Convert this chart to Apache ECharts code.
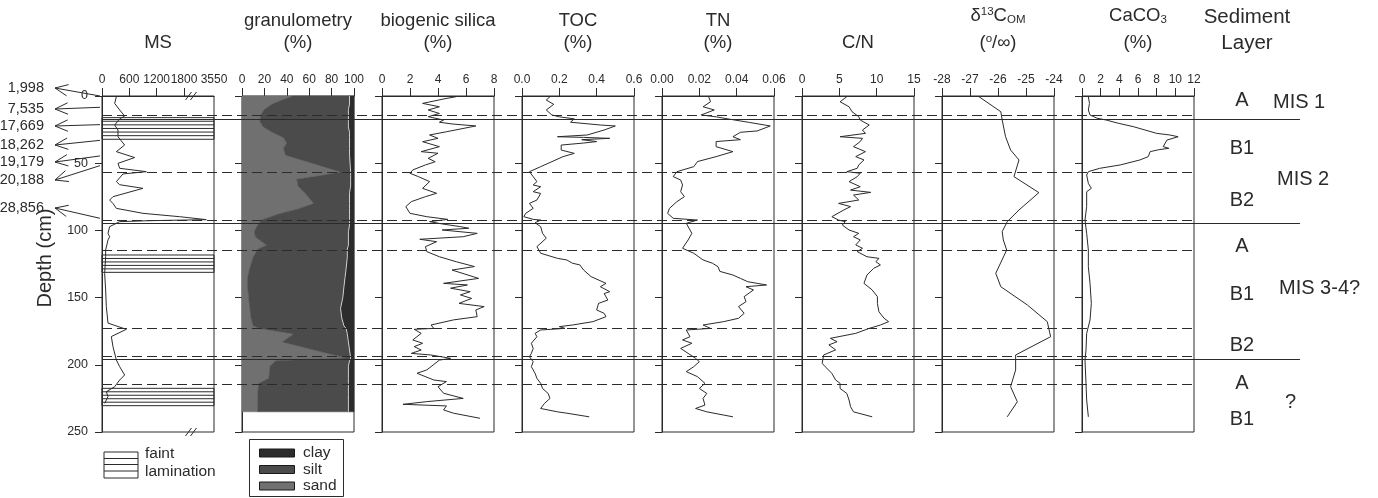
<!DOCTYPE html>
<html>
<head>
<meta charset="utf-8">
<script src="https://cdn.jsdelivr.net/npm/echarts@6.0.0/dist/echarts.min.js"></script>
<style>
html,body{margin:0;padding:0;background:#ffffff;}
#chart{width:1378px;height:498px;}
</style>
</head>
<body>
<div id="chart"></div>
<script>
// ================= DATA =================
// Magnetic susceptibility (raw units)
const msDepth = [0.5,5.5,10.4,14.9,17,21.6,25.3,30.3,36.5,41.4,45.8,50.1,53.8,56.3,58,63.7,66,68.7,74.9,77.4,80,83.6,87.3,89.8,92,92.8,93.5,97.2,102.2,104.7,107.1,114.6,119.6,132,144.3,156.7,169,173.6,179,186.5,196.4,201.4,207.6,211.3,216.3,220,223.7,228.7];
const msValue = [315,278,388,497,388,278,351,351,497,315,717,351,388,973,461,315,388,900,241,168,241,315,900,1705,3100,1000,388,168,132,168,132,80,80,58,80,95,132,534,205,241,315,388,497,388,278,95,132,58];
const msTickValues = [0,600,1200,1800];
const msTopLabel = '3550';

// Granulometry (%), sand / clay, silt = rest
const gsDepth = [0,3,6,10,14,19,23,27,31,35,39,44,56.5,59,62,67,72,80,84,88,92,96,101,105,111,114,120,128,135,142,150,158,165,171,173,177,183,195,197,201,210,214,222,235];
const gsSand  = [46,36,27,20,17,16,19,27,37,40,37,39,88,72,49,50,56,64,50,32,18,14,11,12,22,14,10,7,5,5,6,7,8,10,16,46,36,93,30,25,24,15,14,14];
const gsClay  = [4,4,4,5,5,5,5,4,4,4,4,4,3,3,3,3,4,4,4,4,4,4,5,5,5,6,6,7,8,9,10,12,11,9,7,6,5,3,4,5,5,5,5,5];

// Biogenic silica (%)
const bsiDepth = [0.5,2,5.5,8,10.4,13,15.4,17.9,19.5,20.8,22.3,26.6,29,31.5,34,37.7,41.4,42.6,46.4,48.9,51.3,55,57.5,60,63.7,68.7,72.4,74.9,78.6,82.3,87.3,89.8,91.8,93.5,95.2,97.2,98.4,99.7,102.2,104.7,106.6,108.4,112.1,115.8,119.6,123.3,126.9,129.5,135.7,139.4,140.6,143,145.6,148,150.6,154.3,156.7,159.2,164.2,166.6,170.4,172.9,173.6,176.6,181.5,184,186.5,189,191.5,192.7,195.2,196.5,201.4,203.8,206.3,211.3,212.5,216.3,221.2,225,227.4,229.4,230.6,233.6,236,239.8];
const bsiValue = [5.3,4.5,2.9,4.1,3.3,4.1,3.3,4.4,4.1,5.0,6.7,4.6,3.4,4.0,2.9,4.1,2.8,4.0,3.3,3.8,3.1,2.2,2.0,2.6,3.4,2.9,3.9,3.1,2.1,1.7,2.0,3.2,4.7,3.4,4.3,5.6,6.2,4.3,6.8,5.8,2.7,3.9,3.1,3.2,4.1,5.3,6.6,5.0,6.9,4.4,6.1,4.9,6.3,5.6,6.4,5.5,7.3,6.7,6.8,5.1,3.5,3.7,2.3,2.8,2.2,2.9,2.3,2.8,2.1,3.5,4.9,4.1,3.5,3.2,2.5,3.7,4.6,4.0,4.4,5.8,3.2,1.5,4.6,4.4,5.1,7.0];

// TOC (%)
const tocDepth = [0.5,3,6.2,10.4,14.1,15.5,17,19.5,21.6,22.3,25.3,29,30.3,30.8,31.5,32.5,33.9,35,36.5,40.2,42.7,45.1,50.1,52.6,56.3,60,63.7,66.2,67.5,71.2,72.5,77.4,79.9,83.6,87.3,89.8,91.8,92.3,94.3,97.2,102.2,105.8,112.1,117,120.8,122,124.4,125.7,129.5,134.4,139.4,141.9,145.6,147,151.8,154.3,159.2,161.7,164.2,167.9,170.4,171.6,172.9,174.1,176.6,179.1,184,187.8,191.5,194,197.7,201.4,206.3,210.1,213.8,217.6,221.3,225,228.8,232.5,235,236,238.7];
const tocValue = [0.15,0.13,0.17,0.13,0.16,0.20,0.28,0.26,0.42,0.50,0.44,0.35,0.19,0.33,0.47,0.32,0.40,0.33,0.21,0.21,0.28,0.22,0.14,0.10,0.04,0.06,0.08,0.06,0.10,0.06,0.10,0.08,0.04,0.06,0.02,0.01,0.06,0.10,0.07,0.10,0.11,0.13,0.08,0.10,0.19,0.24,0.27,0.31,0.33,0.37,0.45,0.42,0.47,0.44,0.46,0.41,0.40,0.44,0.45,0.38,0.27,0.20,0.23,0.10,0.07,0.08,0.05,0.06,0.05,0.04,0.06,0.05,0.07,0.08,0.10,0.11,0.14,0.15,0.12,0.10,0.19,0.24,0.36];

// TN (%)
const tnDepth = [0.5,4.3,8,10.4,14.1,15.5,17.2,19.7,22.3,26,27,30.3,32.5,33.9,37.7,41.4,45.1,48.8,52.6,56.3,60,62.5,66.2,71.2,74.9,78.6,83.6,87.3,91,92.3,94.7,99.7,102.2,107.1,113.3,117,122,124.4,127,130.5,133.2,135.7,138.2,140.6,141.9,144.3,149.3,153,156.7,161.7,165.4,167.9,170.4,172.9,174.1,179.1,181.5,184,187.8,191.5,195.2,197.7,201.4,205.1,208.8,213.8,217.6,221.3,225,230,232.5,235,238.7];
const tnValue = [0.025,0.026,0.022,0.028,0.021,0.029,0.036,0.047,0.058,0.051,0.042,0.038,0.042,0.029,0.029,0.038,0.029,0.019,0.017,0.008,0.006,0.010,0.011,0.010,0.012,0.008,0.004,0.003,0.006,0.019,0.013,0.015,0.016,0.014,0.011,0.017,0.022,0.027,0.030,0.031,0.038,0.042,0.046,0.056,0.045,0.049,0.044,0.045,0.041,0.044,0.041,0.033,0.022,0.026,0.013,0.015,0.011,0.016,0.010,0.014,0.018,0.020,0.017,0.013,0.019,0.023,0.020,0.024,0.022,0.023,0.018,0.024,0.038];

// C/N
const cnDepth = [0.5,4.3,8,11.7,15.4,17.9,21.6,25.3,27.8,30.3,31.5,33.9,37.7,41.4,45.1,47.6,51.3,53.8,56.3,57.5,60,63.7,67.5,70,71.7,73.7,77.4,79.9,82.3,84.8,89.8,92.3,93.5,96,99.7,102.2,104.7,107.1,110.8,113.3,115.8,119.6,120.8,123.3,125.7,128.2,133.2,139.4,144.3,149.3,154.3,160.5,165.4,167.9,170.4,172.9,176.6,180.3,182.8,185.2,188.9,192.7,198.9,201.4,206.3,211.3,213.8,217.6,221.3,226.2,231.2,235,238.7];
const cnValue = [6.0,5.1,6.3,6.7,7.6,7.8,9.0,8.1,8.5,5.1,8.1,7.8,6.9,8.5,7.2,8.3,7.6,7.4,6.0,7.8,7.4,6.3,7.8,6.5,9.2,6.9,7.6,4.9,6.5,5.6,4.0,4.9,5.8,5.4,6.3,7.6,6.9,7.8,7.2,8.1,7.4,8.7,10.3,9.9,10.5,9.6,8.7,8.3,9.4,10.1,10.1,10.3,11.0,11.6,10.5,9.0,7.2,3.8,4.7,3.6,4.5,2.9,2.7,3.1,4.0,4.5,5.1,5.1,6.0,6.3,6.5,6.9,9.4];

// delta13C OM (per mil)
const d13Depth = [0.5,11.7,17.9,30.3,40.2,47.6,60,71.9,84.8,93.5,100.9,107.1,114.6,131.9,141.9,155.5,167.9,179.1,192.7,203.8,216.3,227.5,238.7];
const d13Value = [-26.68,-25.90,-25.85,-25.73,-25.55,-25.25,-25.43,-24.54,-25.25,-25.67,-25.85,-25.81,-25.69,-26.08,-25.90,-24.95,-24.24,-24.12,-25.37,-25.37,-25.55,-25.31,-25.67];

// CaCO3 (%)
const caDepth = [0.5,5.5,10.4,14.1,16.5,17.9,20.3,22.8,27.8,29,30.3,32.8,37.7,38.9,40,41.4,45.1,47.6,51.3,53.8,56.3,58.8,65,68.7,71.2,82.3,92.3,102.2,114.6,127,139.4,154.3,166.7,176.6,189,196.4,213.8,226.2,238.7];
const caValue = [0.68,0.8,0.68,0.86,1.6,2.6,3.9,5.5,8.0,9.4,10.3,9.1,8.7,9.3,8.2,7.3,7.1,6.2,4.1,1.9,0.68,0.5,0.68,1.0,0.5,0.5,0.32,0.5,0.68,0.68,0.86,1.0,0.86,0.5,0.43,0.32,0.43,0.5,0.68];

// Boundaries (depth, cm)
const dashedDepths = [14.5,56.5,92.5,115,173,194,214.3];
const solidDepths = [17.5,94.7,196];

// Faint lamination bands (cm)
const laminaTop = [16.1,118.3,217.5];
const laminaBottom = [32.2,131.2,230.4];

// Radiocarbon ages and their depths
const ageLabels = ['1,998','7,535','17,669','18,262','19,179','20,188','28,856'];
const ageDepths = [0,8.4,21.3,33,44.6,51.8,91];

// Sediment layers and MIS
const layerNames = ['A','B1','B2','A','B1','B2','A','B1'];
const layerDepths = [3,38.7,77.4,112,148,186,214,241];
const misNames = ['MIS 1','MIS 2','MIS 3-4?','?'];
const misDepths = [4.5,62,143,228];

// Panel titles
const panelTitles = [['MS'],['granulometry','(%)'],['biogenic silica','(%)'],['TOC','(%)'],['TN','(%)'],['C/N'],['{n|δ}{sup|13}{n|C}{sub|OM}','{n|(}{sup|o}{n|/∞)}'],['{n|CaCO}{sub|3}','{n|(%)}']];
const grainNames = ['clay','silt','sand'];

// ================= LAYOUT / STYLE =================
const FONT = '"Liberation Sans", Arial, Helvetica, sans-serif';
const INK = '#2b2b2b';
const PANEL_LEFT = [102,242,382,522,662,802,942,1082];
const PW = 112, PT = 96, PH = 336;
const OVER_W = 1198, DASH_END = 1092;
const GRAIN_COL = {clay:'#2c2c2c', silt:'#4b4b4b', sand:'#707070'};
const AGE_LABEL_Y = [88,109,126,145,162,180,208];
const MIS_X = [1273,1277,1279,1285];

const MS_BREAK = 1800, MS_TOP = 3550, MS_AXMAX = 2459;
function msScale(v){ return v <= MS_BREAK ? v : MS_BREAK + (v - MS_BREAK) * (MS_AXMAX - MS_BREAK) / (MS_TOP - MS_BREAK); }

function zip(vals, depths){ const n = Math.min(vals.length, depths.length); const o = []; for (let i = 0; i < n; i++) o.push([vals[i], depths[i]]); return o; }

const axesCfg = [
  {min:0, max:MS_AXMAX, interval:600, digits:0},
  {min:0, max:100, interval:20, digits:0},
  {min:0, max:8, interval:2, digits:0},
  {min:0, max:0.6, interval:0.2, digits:1},
  {min:0, max:0.06, interval:0.02, digits:2},
  {min:0, max:15, interval:5, digits:0},
  {min:-28, max:-24, interval:1, digits:0},
  {min:0, max:12, interval:2, digits:0}
];

const grids = PANEL_LEFT.map(l => ({left:l, top:PT, width:PW, height:PH, show:true, borderColor:INK, borderWidth:1, backgroundColor:'transparent', containLabel:false, outerBoundsMode:'none'}));
grids.push({left:PANEL_LEFT[0], top:PT, width:OVER_W, height:PH, show:false, containLabel:false, outerBoundsMode:'none'});

const xAxes = axesCfg.map((c, i) => {
  const ax = {
    type:'value', gridIndex:i, position:'top', min:c.min, max:c.max, interval:c.interval,
    axisLine:{show:true, onZero:false, lineStyle:{color:INK, width:1}},
    axisTick:{show:true, inside:false, length:8, lineStyle:{color:INK, width:1}},
    axisLabel:{show:true, margin:10, fontSize:12, fontFamily:FONT, color:INK, formatter: v => Number(v).toFixed(c.digits)},
    splitLine:{show:false}, minorTick:{show:false}
  };
  if (i === 0) {
    ax.axisTick.customValues = msTickValues.slice();
    ax.axisLabel.customValues = msTickValues.concat([MS_AXMAX]);
    ax.axisLabel.formatter = v => (v >= MS_AXMAX - 1 ? msTopLabel : String(Math.round(v)));
  }
  return ax;
});
xAxes.push({type:'value', gridIndex:8, min:0, max:OVER_W, show:false});

const yAxes = axesCfg.map((c, i) => ({
  type:'value', gridIndex:i, min:0, max:250, interval:50, inverse:true, position:'left',
  axisLine:{show:true, onZero:false, lineStyle:{color:INK, width:1}},
  axisTick:{show:true, inside:false, length:7, lineStyle:{color:INK, width:1}},
  axisLabel:{show:i === 0, margin:14, fontSize:12.5, fontFamily:FONT, color:INK},
  splitLine:{show:false}
}));
yAxes.push({type:'value', gridIndex:8, min:0, max:250, inverse:true, show:false});

function lineSeries(idx, name, data){
  return {type:'line', name, xAxisIndex:idx, yAxisIndex:idx, data, showSymbol:false, symbol:'none',
    lineStyle:{color:INK, width:1}, z:4, silent:true, animation:false, clip:true};
}

const series = [];
series.push(lineSeries(0, 'MS', zip(msValue.map(msScale), msDepth)));
series.push({
  type:'custom', name:'granulometry', xAxisIndex:1, yAxisIndex:1, data:[[0,0]], z:1, silent:true, animation:false,
  renderItem: function(params, api){
    const n = Math.min(gsDepth.length, gsSand.length, gsClay.length);
    const b1 = [], b2 = [];
    for (let i = 0; i < n; i++) { b1.push(api.coord([gsSand[i], gsDepth[i]])); b2.push(api.coord([100 - gsClay[i], gsDepth[i]])); }
    const lt = api.coord([0, gsDepth[0]]), lb = api.coord([0, gsDepth[n-1]]);
    const rt = api.coord([100, gsDepth[0]]), rb = api.coord([100, gsDepth[n-1]]);
    const sandPts = [lt].concat(b1, [lb]);
    const siltPts = b1.concat(b2.slice().reverse());
    const clayPts = b2.concat([rb, rt]);
    return {type:'group', children:[
      {type:'polygon', shape:{points:sandPts}, style:{fill:GRAIN_COL.sand, stroke:GRAIN_COL.sand, lineWidth:0.5}},
      {type:'polygon', shape:{points:siltPts}, style:{fill:GRAIN_COL.silt, stroke:GRAIN_COL.silt, lineWidth:0.5}},
      {type:'polygon', shape:{points:clayPts}, style:{fill:GRAIN_COL.clay, stroke:GRAIN_COL.clay, lineWidth:0.5}},
      {type:'polyline', shape:{points:b2}, style:{stroke:'#cfcfcf', lineWidth:1, fill:null}}
    ]};
  }
});
series.push(lineSeries(2, 'biogenic silica', zip(bsiValue, bsiDepth)));
series.push(lineSeries(3, 'TOC', zip(tocValue, tocDepth)));
series.push(lineSeries(4, 'TN', zip(tnValue, tnDepth)));
series.push(lineSeries(5, 'C/N', zip(cnValue, cnDepth)));
series.push(lineSeries(6, 'd13C', zip(d13Value, d13Depth)));
series.push(lineSeries(7, 'CaCO3', zip(caValue, caDepth)));
series.push({
  type:'custom', name:'lamination', xAxisIndex:0, yAxisIndex:0, data:[[0,0]], z:3, silent:true, animation:false,
  renderItem: function(params, api){
    const ch = [];
    for (let k = 0; k < Math.min(laminaTop.length, laminaBottom.length); k++) {
      const p0 = api.coord([0, laminaTop[k]]), p1 = api.coord([MS_AXMAX, laminaBottom[k]]);
      const h = p1[1] - p0[1];
      const n = Math.max(2, Math.round(h / 3.6));
      ch.push({type:'rect', shape:{x:p0[0], y:p0[1], width:p1[0]-p0[0], height:h}, style:{fill:'none', stroke:INK, lineWidth:1}});
      for (let j = 1; j < n; j++) {
        const y = p0[1] + h * j / n;
        ch.push({type:'line', shape:{x1:p0[0], y1:y, x2:p1[0], y2:y}, style:{stroke:INK, lineWidth:1}});
      }
    }
    return {type:'group', children:ch};
  }
});
series.push({
  type:'lines', name:'dashed boundaries', coordinateSystem:'cartesian2d', xAxisIndex:8, yAxisIndex:8, polyline:false,
  symbol:['none','none'], silent:true, animation:false, z:5,
  lineStyle:{color:INK, width:1.2, type:[10,5], opacity:1, curveness:0},
  data: dashedDepths.map(d => ({coords:[[0,d],[DASH_END,d]]}))
});
series.push({
  type:'lines', name:'solid boundaries', coordinateSystem:'cartesian2d', xAxisIndex:8, yAxisIndex:8, polyline:false,
  symbol:['none','none'], silent:true, animation:false, z:5,
  lineStyle:{color:INK, width:1.2, type:'solid', opacity:1, curveness:0},
  data: solidDepths.map(d => ({coords:[[0,d],[OVER_W,d]]}))
});

const chart = echarts.init(document.getElementById('chart'), null, {renderer:'canvas'});
chart.setOption({
  backgroundColor:'#ffffff', animation:false,
  grid:grids, xAxis:xAxes, yAxis:yAxes, series:series
});

// ================= ANNOTATIONS =================
function txt(x, y, text, size, align, extra){
  const st = {text, font: size + 'px ' + FONT, fill:INK, align:align || 'center', verticalAlign:'middle', textAlign:align || 'center', textVerticalAlign:'middle'};
  return Object.assign({type:'text', x, y, silent:true, z:10, style:st}, extra || {});
}
function richTxt(x, y, text, size){
  const base = {fontSize:size, fontFamily:FONT, color:INK};
  return {type:'text', x, y, silent:true, z:10, style:{
    text, fill:INK, font: size + 'px ' + FONT, align:'center', verticalAlign:'middle', textAlign:'center', textVerticalAlign:'middle',
    rich:{
      n: Object.assign({}, base, {verticalAlign:'top', lineHeight:20}),
      sup: Object.assign({}, base, {fontSize:11.5, verticalAlign:'top', lineHeight:12}),
      sub: Object.assign({}, base, {fontSize:11.5, verticalAlign:'bottom', lineHeight:14})
    }
  }};
}
function ln(x1, y1, x2, y2, w){ return {type:'line', silent:true, z:10, shape:{x1, y1, x2, y2}, style:{stroke:INK, lineWidth:w || 1}}; }

function buildGraphic(){
  const g = [];
  const TS = 18.5;
  // panel titles
  panelTitles.forEach((lines, i) => {
    const cx = PANEL_LEFT[i] + PW / 2;
    const rich = i >= 6;
    if (lines.length === 1) {
      g.push(txt(cx, 43, lines[0], TS));
    } else {
      const y1 = rich ? 16 : 21, y2 = 43;
      g.push(rich ? richTxt(cx, y1, lines[0], TS) : txt(cx, y1, lines[0], TS));
      g.push(rich ? richTxt(cx, y2, lines[1], TS) : txt(cx, y2, lines[1], TS));
    }
  });
  g.push(txt(1247, 17, 'Sediment', 20.5));
  g.push(txt(1247, 43, 'Layer', 20.5));
  // depth axis title
  g.push(txt(45, 258, 'Depth (cm)', 20, 'center', {rotation: Math.PI / 2}));
  // MS axis breaks
  [0, 250].forEach(d => {
    const p = chart.convertToPixel({gridIndex:0}, [1954, d]);
    [-2.5, 2.5].forEach(dx => g.push(ln(p[0] + dx - 3, p[1] + 4, p[0] + dx + 3, p[1] - 4)));
  });
  // ages with arrows
  for (let i = 0; i < Math.min(ageLabels.length, ageDepths.length); i++) {
    const ty = AGE_LABEL_Y[i], tx = 55;
    const e = chart.convertToPixel({gridIndex:0}, [0, ageDepths[i]]);
    const ex = e[0] - 2, ey = e[1];
    g.push(ln(tx, ty, ex, ey));
    const ang = Math.atan2(ey - ty, ex - tx), L = 14, a = 0.42;
    g.push(ln(tx, ty, tx + L * Math.cos(ang - a), ty + L * Math.sin(ang - a)));
    g.push(ln(tx, ty, tx + L * Math.cos(ang + a), ty + L * Math.sin(ang + a)));
    g.push(txt(44, ty, ageLabels[i], 14.5, 'right'));
  }
  // layers
  for (let i = 0; i < layerNames.length; i++) {
    const p = chart.convertToPixel({gridIndex:8}, [0, layerDepths[i]]);
    g.push(txt(1242, p[1], layerNames[i], 20));
  }
  for (let i = 0; i < misNames.length; i++) {
    const p = chart.convertToPixel({gridIndex:8}, [0, misDepths[i]]);
    g.push(txt(MIS_X[i], p[1], misNames[i], 20, 'left'));
  }
  // lamination legend
  g.push({type:'rect', silent:true, z:10, shape:{x:104, y:452, width:34, height:26}, style:{fill:'#fff', stroke:INK, lineWidth:1}});
  [458.5, 464.5, 471].forEach(y => g.push(ln(104, y, 138, y)));
  g.push(txt(145, 454, 'faint', 15.5, 'left'));
  g.push(txt(145, 472, 'lamination', 15.5, 'left'));
  // granulometry legend
  g.push({type:'rect', silent:true, z:10, shape:{x:249.5, y:439.5, width:94, height:57}, style:{fill:'#fff', stroke:INK, lineWidth:1}});
  const lyY = [453, 469.5, 486];
  grainNames.forEach((nm, i) => {
    g.push({type:'rect', silent:true, z:11, shape:{x:259.5, y:lyY[i] - 4, width:35, height:8}, style:{fill:GRAIN_COL[nm], stroke:'#1a1a1a', lineWidth:1}});
    g.push(txt(303, lyY[i], nm, 15.5, 'left', {z:11}));
  });
  return g;
}
chart.setOption({graphic:{elements:buildGraphic()}});
</script>
</body>
</html>
